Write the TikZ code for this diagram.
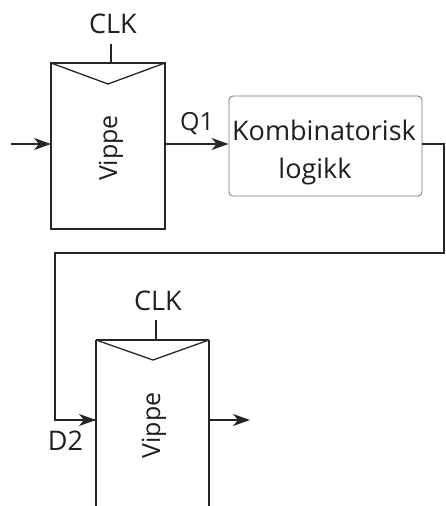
\documentclass[tikz,border=0pt]{standalone}
\usepackage{fontspec}
\setmainfont{Open Sans}
\usetikzlibrary{arrows.meta}
\begin{document}
\begin{tikzpicture}[x=1pt,y=-1pt,
  wire/.style={line width=1.3pt, draw=black!85},
  sig/.style={wire, -{Stealth[length=17pt,width=12pt,inset=5pt]}},
  lbl/.style={font=\fontsize{27}{30}\selectfont, text=black!88, inner sep=0pt, anchor=base},
  small/.style={lbl, font=\fontsize{25}{28}\selectfont},
  ff/.style={wire}]
\useasboundingbox (0,0) rectangle (446,506);
% first flip-flop
\coordinate (f1nw) at (51,63);
\coordinate (f1se) at (165,229);
\draw[ff] (f1nw) rectangle (f1se);
\draw[ff] (51,63) -- (108,84) -- (165,63);
\coordinate (clk1) at (111,44);
\draw[wire] (clk1) -- (111,63);
\node[lbl] (clk1t) at (113,33) {CLK};
\node[small, rotate=90] (v1) at (117,148) {Vippe};
\coordinate (in1) at (11,144);
\coordinate (f1d) at (51,144);
\draw[sig] (in1) -- (f1d);
% combinational logic block
\node[draw=black!55, line width=0.8pt, rounded corners=4pt, minimum width=193pt, minimum height=100pt,
      inner sep=0pt] (kl) at (325.5,146) {};
\node[lbl] (kl1) at (324,140) {Kombinatorisk};
\node[lbl] (kl2) at (315,178) {logikk};
\coordinate (f1q) at (165,144);
\draw[sig] (f1q) -- (kl.west |- f1q);
\node[small] (q1) at (197,130) {Q1};
% feedback wire to the second flip-flop
\coordinate (kr) at (kl.east |- 0,144);
\coordinate (c1) at (444,144);
\coordinate (c2) at (444,253);
\coordinate (c3) at (55,253);
\coordinate (c4) at (55,420);
\coordinate (f2d) at (96,420);
\draw[wire] (kr) -- (c1) -- (c2) -- (c3) -- (c4) -- (f2d);
\draw[sig] (c4) -- (f2d);
\node[lbl] (d2) at (65.5,450) {D2};
% second flip-flop
\draw[ff] (96,340) -- (96,507);
\draw[ff] (209,340) -- (209,507);
\draw[ff] (96,340) -- (153,360) -- (209,340);
\draw[ff] (96,340) -- (209,340);
\draw[wire] (156,320) -- (156,340);
\node[lbl] (clk2t) at (158,310) {CLK};
\node[small, rotate=90] (v2) at (160,425.5) {Vippe};
\coordinate (f2q) at (209,420);
\coordinate (out2) at (250,420);
\draw[sig] (f2q) -- (out2);
\end{tikzpicture}
\end{document}
